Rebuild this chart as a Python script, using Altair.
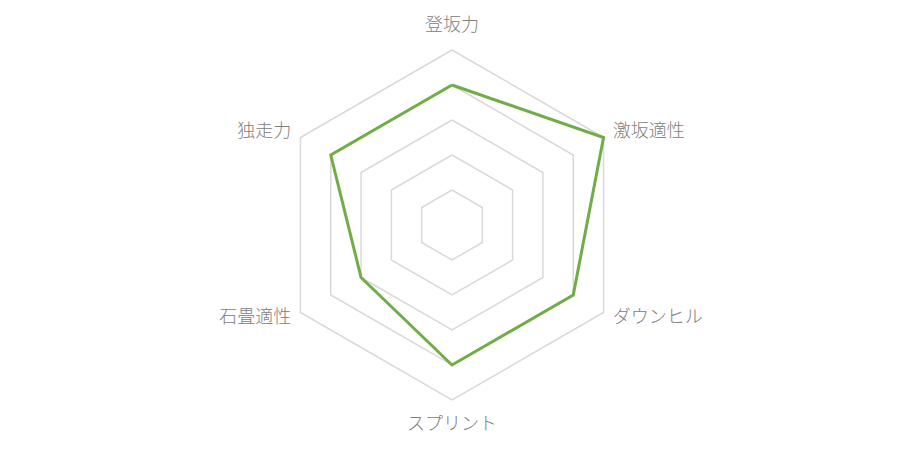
import math
import altair as alt
import pandas as pd

categories = ["登坂力", "激坂適性", "ダウンヒル", "スプリント", "石畳適性", "独走力"]
values = [4, 5, 4, 4, 3, 4]
levels = [1, 2, 3, 4, 5]
max_value = 5

n = len(categories)

def angle(i):
    return math.radians(90 - i * 360 / n)

# grid polygons
grid_rows = []
for lv in levels:
    for k in range(n + 1):
        i = k % n
        grid_rows.append({"level": lv, "order": k,
                          "x": lv * math.cos(angle(i)), "y": lv * math.sin(angle(i))})
grid_df = pd.DataFrame(grid_rows)

# data polygon
data_rows = []
for k in range(n + 1):
    i = k % n
    data_rows.append({"order": k, "cat": categories[i], "value": values[i],
                      "x": values[i] * math.cos(angle(i)), "y": values[i] * math.sin(angle(i))})
data_df = pd.DataFrame(data_rows)

# labels
label_rows = []
for i, c in enumerate(categories):
    a = angle(i)
    cx = math.cos(a)
    if abs(cx) < 1e-6:
        r = max_value * 1.14
        al = "center"
    else:
        r = max_value * 1.06
        al = "left" if cx > 0 else "right"
    label_rows.append({"cat": c, "x": r * math.cos(a), "y": r * math.sin(a), "align": al})
label_df = pd.DataFrame(label_rows)

W, H = 889, 435
cx_px, cy_px = 444, 217
ppu = 35.0
xdom = [-cx_px / ppu, (W - cx_px) / ppu]
ydom = [-(H - cy_px) / ppu, cy_px / ppu]

xs = alt.Scale(domain=xdom, nice=False, zero=False)
ys = alt.Scale(domain=ydom, nice=False, zero=False)

grid = alt.Chart(grid_df).mark_line(color="#d9d9d9", strokeWidth=1.5).encode(
    x=alt.X("x:Q", scale=xs, axis=None),
    y=alt.Y("y:Q", scale=ys, axis=None),
    detail="level:N",
    order="order:Q",
)

line = alt.Chart(data_df).mark_line(color="#70ad47", strokeWidth=3, strokeJoin="miter").encode(
    x=alt.X("x:Q", scale=xs, axis=None),
    y=alt.Y("y:Q", scale=ys, axis=None),
    order="order:Q",
)

text_layers = []
for al in ["left", "right", "center"]:
    t = alt.Chart(label_df).transform_filter(alt.datum.align == al).mark_text(
        align=al, baseline="middle", font="Noto Sans CJK JP", fontSize=18,
        fontWeight=300, color="#808080"
    ).encode(
        x=alt.X("x:Q", scale=xs, axis=None),
        y=alt.Y("y:Q", scale=ys, axis=None),
        text="cat:N",
    )
    text_layers.append(t)

chart = alt.layer(grid, line, *text_layers).properties(
    width=W, height=H, padding=0
).configure_view(stroke=None)

chart.save("out.html", embed_options={"renderer": "svg", "actions": False})
